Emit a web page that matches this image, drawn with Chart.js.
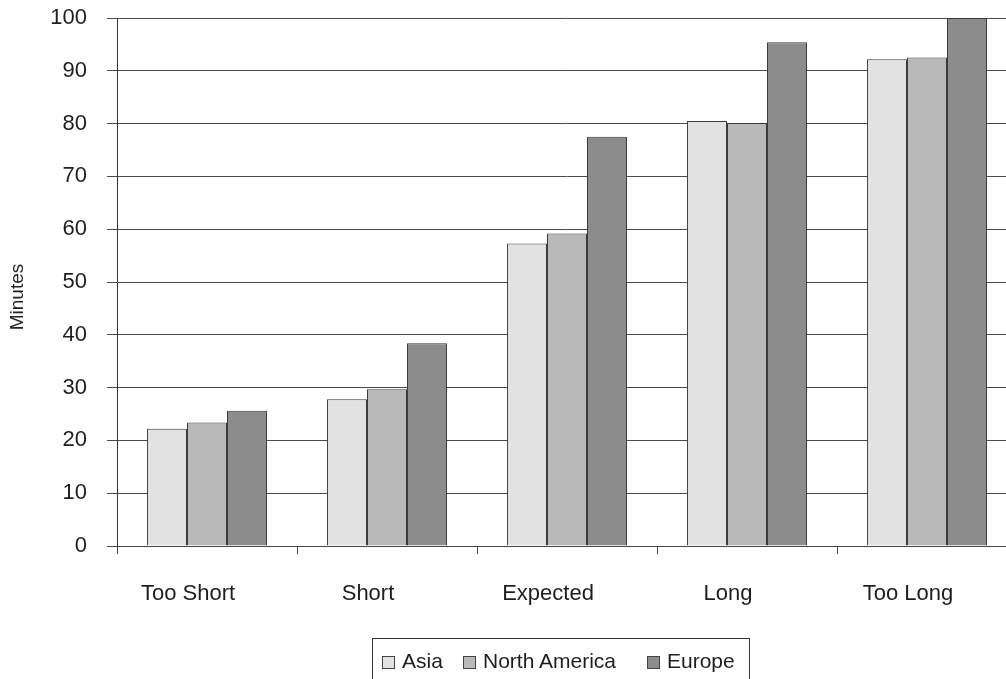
<!DOCTYPE html>
<html>
<head>
<meta charset="utf-8">
<script src="https://cdn.jsdelivr.net/npm/chart.js@4/dist/chart.umd.min.js"></script>
<style>
  html, body { margin: 0; padding: 0; background: #fff; overflow: hidden; width: 1006px; height: 679px; }
  #wrap { position: relative; width: 1030px; height: 679px; }
  #legend {
    position: absolute; left: 372px; top: 638px; width: 378px; height: 44px;
    border: 1px solid #333; box-sizing: border-box;
    font-family: "Liberation Sans", Arial, sans-serif; font-size: 21px; color: #1e1e1e;
  }
  .item { position: absolute; top: 10px; height: 24px; line-height: 24px; white-space: nowrap; }
  .sw { display: inline-block; width: 11px; height: 11px; border: 1px solid #444; vertical-align: middle; margin-right: 7px; position: relative; top: 0px; }
</style>
</head>
<body>
<div id="wrap">
  <canvas id="c" width="1030" height="679"></canvas>
  <div id="legend"></div>
</div>
<script>
const categories = ["Too Short", "Short", "Expected", "Long", "Too Long"];
const seriesNames = ["Asia", "North America", "Europe"];
const asia = [22.2, 27.8, 57.3, 80.5, 92.2];
const northAmerica = [23.4, 29.7, 59.2, 80.1, 92.5];
const europe = [25.6, 38.4, 77.5, 95.4, 100];
const yTicks = [0, 10, 20, 30, 40, 50, 60, 70, 80, 90, 100];
const yTitle = "Minutes";

const colors = ["#e2e2e2", "#b9b9b9", "#8c8c8c"];
const values = [asia, northAmerica, europe];

const datasets = seriesNames.map((name, i) => ({
  label: name,
  data: values[i],
  backgroundColor: colors[i],
  borderColor: "#3a3a3a",
  borderWidth: 1,
  barPercentage: 1.0,
  categoryPercentage: 0.667
}));

const fam = "'Liberation Sans', Arial, sans-serif";
const font = { family: fam, size: 22 };

// y-axis title drawn as canvas text at its reference position
const yTitlePlugin = {
  id: "yTitle",
  afterDraw(chart) {
    const ctx = chart.ctx;
    ctx.save();
    ctx.translate(18, 297);
    ctx.rotate(-Math.PI / 2);
    ctx.font = "19px " + fam;
    ctx.fillStyle = "#222";
    ctx.textAlign = "center";
    ctx.textBaseline = "middle";
    ctx.fillText(yTitle, 0, 0);
    ctx.restore();
  }
};

const chart = new Chart(document.getElementById("c"), {
  type: "bar",
  data: { labels: categories, datasets },
  plugins: [yTitlePlugin],
  options: {
    responsive: false,
    animation: false,
    layout: { padding: { top: 18, right: 13, left: 0, bottom: 0 } },
    plugins: { legend: { display: false }, tooltip: { enabled: false } },
    scales: {
      x: {
        offset: true,
        grid: { display: true, drawOnChartArea: false, drawTicks: true, tickLength: 8, color: "#444", offset: true },
        border: { display: true, color: "#444", width: 1 },
        ticks: { color: "#1e1e1e", font, padding: 27, maxRotation: 0, labelOffset: -19 },
        afterFit: s => { s.height = 133; }
      },
      y: {
        min: 0, max: 100,
        afterBuildTicks: s => { s.ticks = yTicks.map(v => ({ value: v })); },
        grid: { color: "#4a4a4a", lineWidth: 1, tickLength: 10 },
        border: { display: true, color: "#333", width: 1 },
        ticks: { color: "#1e1e1e", font, padding: 20 },
        afterFit: s => { s.width = 117; s.paddingTop = 0; s.paddingBottom = 0; }
      }
    }
  }
});

const legend = document.getElementById("legend");
const positions = [9, 90, 274];
chart.data.datasets.forEach((ds, i) => {
  const d = document.createElement("div");
  d.className = "item";
  d.style.left = positions[i] + "px";
  const sw = document.createElement("span");
  sw.className = "sw";
  sw.style.background = ds.backgroundColor;
  d.appendChild(sw);
  d.appendChild(document.createTextNode(ds.label));
  legend.appendChild(d);
});
</script>
</body>
</html>
